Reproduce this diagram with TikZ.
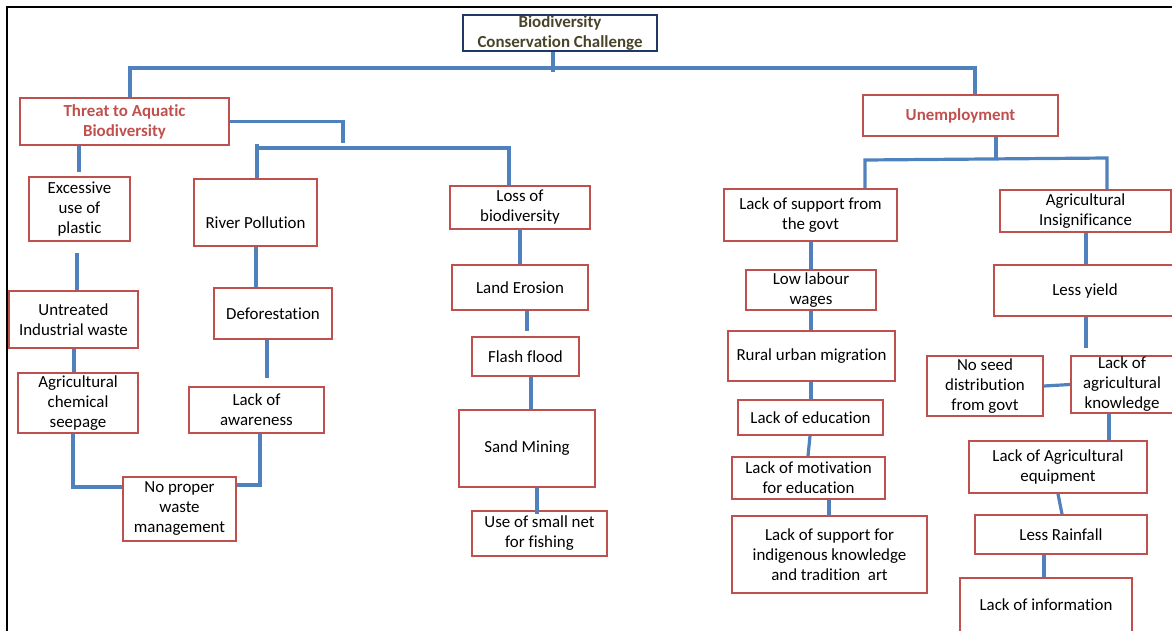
\documentclass[tikz,border=0pt]{standalone}
\usepackage{fontspec}
\setmainfont{Carlito}[Ligatures=NoCommon]
\usetikzlibrary{calc}
\definecolor{boxred}{HTML}{C0504D}
\definecolor{linkblue}{HTML}{4F81BD}
\definecolor{titlenavy}{HTML}{1F3864}
\definecolor{titleolive}{HTML}{494429}

\begin{document}
\begin{tikzpicture}[x=1pt,y=-1pt,
  every node/.style={font=\fontsize{16.9}{20}\selectfont, align=center, inner sep=0pt},
  box/.style={draw=boxred, line width=1.8pt, rectangle},
  headbox/.style={box, text=boxred, font=\fontsize{16.9}{20}\selectfont\bfseries},
  titlebox/.style={draw=titlenavy, line width=1.8pt, rectangle, text=titleolive,
    font=\fontsize{16.9}{20}\selectfont\bfseries},
  sz/.style 2 args={minimum width=#1, minimum height=#2},
  conn/.style={draw=linkblue, line width=3.2pt},
  frameline/.style={draw=black, line width=2pt}]

\useasboundingbox (0,0) rectangle (1172,630);
\clip (0,0) rectangle (1172,630);

% outer frame
\draw[frameline] (7,640) -- (7,7) -- (1180,7);

% root
\node[titlebox, sz={194}{36}] (title) at (560,33) {Biodiversity\\Conservation Challenge};

% main branches
\node[headbox, sz={209}{47}] (thr) at (124.5,121.5) {Threat to Aquatic\\Biodiversity};
\node[headbox, sz={195}{41}] (unemp) at (960.5,115.5) {Unemployment};

% aquatic branch: left column
\node[box, sz={101}{64}] (exc) at (79.5,209) {Excessive\\use of\\plastic};
\node[box, sz={129}{57}] (unt) at (73.5,319.5) {Untreated\\Industrial waste};
\node[box, sz={120}{60}] (agc) at (78,403) {Agricultural\\chemical\\seepage};
\node[box, sz={113}{64}] (nop) at (179.5,509) {No proper\\waste\\management};

% aquatic branch: river column
\node[box, sz={123}{67}] (riv) at (255.5,212.5) {\raisebox{-10pt}[\height][\depth]{River Pollution}};
\node[box, sz={118}{51}] (def) at (273,313.5) {Deforestation};
\node[box, sz={135}{46}] (law) at (256.5,410) {Lack of\\awareness};

% aquatic branch: biodiversity column
\node[box, sz={140}{43}] (los) at (520,207.5) {Loss of\\biodiversity};
\node[box, sz={136}{45}] (lan) at (520,287.5) {Land Erosion};
\node[box, sz={107}{39}] (fla) at (525.5,356.5) {Flash flood};
\node[box, sz={136}{77}] (san) at (527,448.5) {Sand Mining};
\node[box, sz={135}{45}] (use) at (539.5,533.5) {Use of small net\\for fishing};

% unemployment branch: government column
\node[box, sz={173}{52}] (lsg) at (810.5,215) {Lack of support from\\the govt};
\node[box, sz={130}{40}] (llw) at (811,290) {Low labour\\wages};
\node[box, sz={167}{50}] (rum) at (811.5,356) {Rural urban migration};
\node[box, sz={145}{35}] (led) at (810.5,417.5) {Lack of education};
\node[box, sz={153}{42}] (lmo) at (808.5,478) {Lack of motivation\\for education};
\node[box, sz={195}{77}] (lsi) at (829.5,554.5) {Lack of support for\\indigenous knowledge\\and tradition~ art};

% unemployment branch: agriculture column
\node[box, sz={171}{42}] (agi) at (1085.5,211) {Agricultural\\Insignificance};
\node[box, sz={182}{51}] (lyi) at (1085,290.5) {Less yield};
\node[box, sz={102}{57}] (lak) at (1122,384.5) {Lack of\\agricultural\\knowledge};
\node[box, sz={116}{60}] (nsd) at (985,386) {No seed\\distribution\\from govt};
\node[box, sz={178}{52}] (lae) at (1058,467) {Lack of Agricultural\\equipment};
\node[box, sz={172}{39}] (lra) at (1061,534.5) {Less Rainfall};
\node[box, sz={172}{54}] (lin) at (1046,605) {Lack of information};

% root connectors
\draw[conn] (title.south -| 553,0) -- (553,72);
\draw[conn] (thr.north -| 130,0) |- (975,68) -- (unemp.north -| 975,0);

% aquatic connectors
\draw[conn] (thr.east) -- (thr.east -| 343,0) -- (343,143);
\draw[conn] (riv.north -| 257,0) -- (257,144);
\draw[conn] (257,148) -| (los.north -| 509,0);
\draw[conn] (thr.south -| 79,0) -- (79,172);
\draw[conn] (77,253) -- (unt.north -| 77,0);
\draw[conn] (unt.south -| 74,0) -- (agc.north -| 74,0);
\draw[conn] (agc.south -| 73,0) |- (nop.west |- 0,487);
\draw[conn] (law.south -| 260,0) |- (nop.east |- 0,485);
\draw[conn] (riv.south -| 256,0) -- (def.north -| 256,0);
\draw[conn] (def.south -| 267,0) -- (267,378);
\draw[conn] (los.south) -- (lan.north);
\draw[conn] (lan.south -| 527,0) -- (527,331);
\draw[conn] (fla.south -| 531,0) -- (san.north -| 531,0);
\draw[conn] (san.south -| 537,0) -- (537,514);

% unemployment connectors
\draw[conn] (unemp.south -| 996,0) -- (996,159);
\draw[conn] (lsg.north -| 865,0) -- (865,160) -- (1107,158) -- (agi.north -| 1107,0);
\draw[conn] (lsg.south -| 811,0) -- (llw.north -| 811,0);
\draw[conn] (llw.south -| 811,0) -- (rum.north -| 811,0);
\draw[conn] (rum.south -| 811,0) -- (led.north -| 811,0);
\draw[conn] (led.south -| 810,0) -- (lmo.north -| 808,0);
\draw[conn] (lmo.south -| 829,0) -- (lsi.north -| 829,0);
\draw[conn] (agi.south -| 1086,0) -- (lyi.north -| 1086,0);
\draw[conn] (lyi.south -| 1086,0) -- (1086,348);
\draw[conn] (nsd.east) -- (lak.west);
\draw[conn] (lak.south -| 1109,0) -- (lae.north -| 1109,0);
\draw[conn] (lae.south -| 1058,0) -- (lra.north -| 1062,0);
\draw[conn] (lra.south -| 1044,0) -- (lin.north -| 1044,0);

\end{tikzpicture}
\end{document}
